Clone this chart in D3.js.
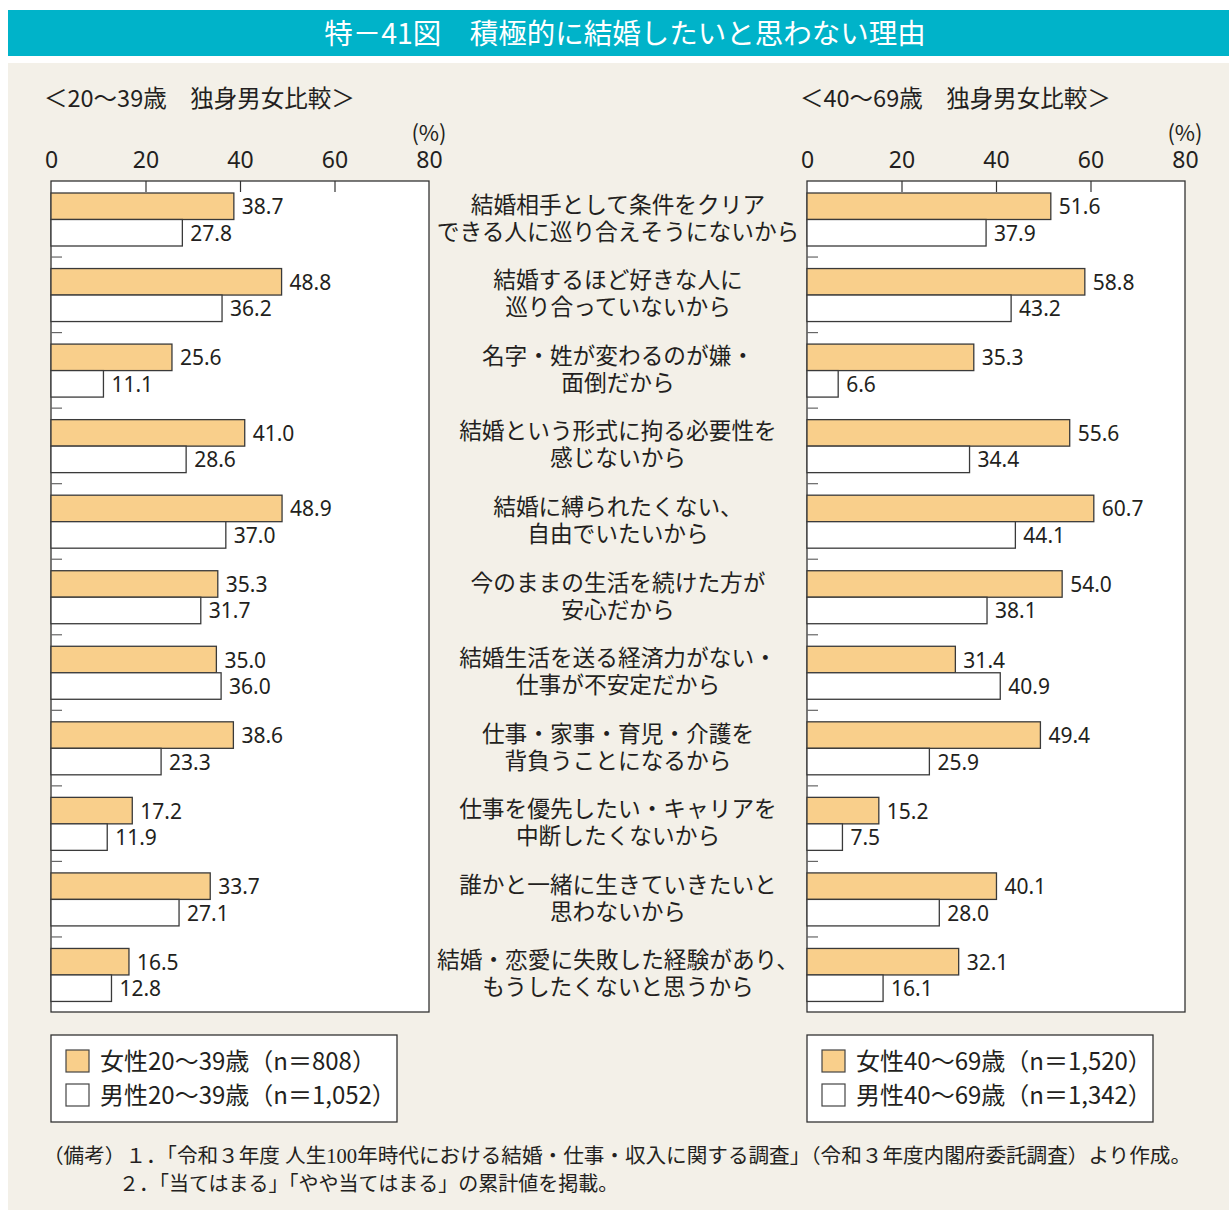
<!DOCTYPE html>
<html lang="ja">
<head>
<meta charset="utf-8">
<script src="https://cdn.jsdelivr.net/npm/d3@7"></script>
<style>
  html, body { margin: 0; padding: 0; background: #ffffff; }
  svg { display: block; }
  text { font-family: "Noto Sans CJK JP", "Noto Sans", sans-serif; fill: #231f20; }
  .serif { font-family: "Liberation Serif", "DejaVu Serif", "Noto Sans CJK JP", serif; }
</style>
</head>
<body>
<svg id="chart" width="1229" height="1210"></svg>
<script>
// Reasons for not actively wanting to marry (two display lines each)
const reasons = [
  ["結婚相手として条件をクリア", "できる人に巡り合えそうにないから"],
  ["結婚するほど好きな人に", "巡り合っていないから"],
  ["名字・姓が変わるのが嫌・", "面倒だから"],
  ["結婚という形式に拘る必要性を", "感じないから"],
  ["結婚に縛られたくない、", "自由でいたいから"],
  ["今のままの生活を続けた方が", "安心だから"],
  ["結婚生活を送る経済力がない・", "仕事が不安定だから"],
  ["仕事・家事・育児・介護を", "背負うことになるから"],
  ["仕事を優先したい・キャリアを", "中断したくないから"],
  ["誰かと一緒に生きていきたいと", "思わないから"],
  ["結婚・恋愛に失敗した経験があり、", "もうしたくないと思うから"]
];

// Percentages, age 20-39
const female2039 = [38.7, 48.8, 25.6, 41.0, 48.9, 35.3, 35.0, 38.6, 17.2, 33.7, 16.5];
const male2039   = [27.8, 36.2, 11.1, 28.6, 37.0, 31.7, 36.0, 23.3, 11.9, 27.1, 12.8];

// Percentages, age 40-69
const female4069 = [51.6, 58.8, 35.3, 55.6, 60.7, 54.0, 31.4, 49.4, 15.2, 40.1, 32.1];
const male4069   = [37.9, 43.2, 6.6, 34.4, 44.1, 38.1, 40.9, 25.9, 7.5, 28.0, 16.1];

const axisTicks = [0, 20, 40, 60, 80];

const titleText = "特－41図　積極的に結婚したいと思わない理由";
const panelTitles = ["＜20〜39歳　独身男女比較＞", "＜40〜69歳　独身男女比較＞"];
const legendLabels = [
  ["女性20〜39歳（n＝808）", "男性20〜39歳（n＝1,052）"],
  ["女性40〜69歳（n＝1,520）", "男性40〜69歳（n＝1,342）"]
];
const notes = [
  "（備考）１．「令和３年度 人生100年時代における結婚・仕事・収入に関する調査」（令和３年度内閣府委託調査）より作成。",
  "２．「当てはまる」「やや当てはまる」の累計値を掲載。"
];

const FEMALE_FILL = "#f9cf8b";
const MALE_FILL = "#ffffff";
const BAR_STROKE = "#3a3a3a";

const svg = d3.select("#chart");

// Header bar and background panel
svg.append("rect").attr("x", 8).attr("y", 10).attr("width", 1221).attr("height", 46).attr("fill", "#00b3c9");
svg.append("text").attr("x", 625).attr("y", 44).attr("text-anchor", "middle")
  .attr("font-size", 28.5).style("fill", "#ffffff").text(titleText);
svg.append("rect").attr("x", 8).attr("y", 63).attr("width", 1221).attr("height", 1147).attr("fill", "#f3f0e8");

// Shared vertical band scale for reason groups
const plotTop = 181, plotBottom = 1012;
const y = d3.scaleBand().domain(d3.range(reasons.length)).range([plotTop, plotBottom]).paddingInner(0).paddingOuter(0);
const ySub = d3.scaleBand().domain(["f", "m"]).range([12, 65]).paddingInner(0);

function drawPanel(x0, female, male, subtitle, legend) {
  const width = 378;
  const x = d3.scaleLinear().domain([0, 80]).range([x0, x0 + width]);
  const g = svg.append("g");

  g.append("text").attr("x", x0 - 7).attr("y", 107).attr("font-size", 23.5).text(subtitle);

  // Plot frame
  g.append("rect").attr("x", x0).attr("y", plotTop).attr("width", width).attr("height", plotBottom - plotTop)
    .attr("fill", "#ffffff").attr("stroke", "#333").attr("stroke-width", 1.3);

  // Tick labels above the frame
  const axTop = d3.axisTop(x).tickValues(axisTicks).tickSize(0).tickPadding(0).tickFormat(d3.format("d"));
  const axG = g.append("g").attr("transform", `translate(0,${plotTop - 13})`).call(axTop);
  axG.select(".domain").remove();
  axG.selectAll("text").attr("font-size", 23).style("fill", "#231f20")
    .style("font-family", "'Noto Sans', 'Noto Sans CJK JP', sans-serif");
  g.append("text").attr("x", x(80)).attr("y", 141).attr("text-anchor", "middle")
    .attr("font-size", 22).text("(%)");

  // Short inner ticks along the top edge
  const axIn = d3.axisBottom(x).tickValues([20, 40, 60]).tickSize(11).tickFormat("");
  const inG = g.append("g").attr("transform", `translate(0,${plotTop})`).call(axIn);
  inG.select(".domain").remove();
  inG.selectAll("line").attr("stroke", "#333").attr("stroke-width", 1.2);

  // Group separators on the left axis
  const axLeft = d3.axisRight(d3.scaleLinear().domain([0, reasons.length]).range([plotTop, plotBottom]))
    .tickValues(d3.range(1, reasons.length)).tickSize(11).tickFormat("");
  const lG = g.append("g").attr("transform", `translate(${x0},0)`).call(axLeft);
  lG.select(".domain").remove();
  lG.selectAll("line").attr("stroke", "#666").attr("stroke-width", 1.2);

  const rows = reasons.map((r, i) => ({ i, f: female[i], m: male[i] }));
  const series = [
    { key: "f", fill: FEMALE_FILL, get: d => d.f },
    { key: "m", fill: MALE_FILL, get: d => d.m }
  ];
  series.forEach(s => {
    g.selectAll(null).data(rows).enter().append("rect")
      .attr("x", x(0))
      .attr("y", d => y(d.i) + ySub(s.key))
      .attr("width", d => x(s.get(d)) - x(0))
      .attr("height", ySub.bandwidth())
      .attr("fill", s.fill).attr("stroke", BAR_STROKE).attr("stroke-width", 1.3);
    g.selectAll(null).data(rows).enter().append("text")
      .attr("x", d => x(s.get(d)) + 8)
      .attr("y", d => y(d.i) + ySub(s.key) + ySub.bandwidth() / 2 + 8)
      .attr("font-size", 21)
      .style("font-family", "'Noto Sans', 'Noto Sans CJK JP', sans-serif")
      .text(d => s.get(d).toFixed(1));
  });

  // Legend box
  const lg = g.append("g");
  lg.append("rect").attr("x", x0).attr("y", 1035).attr("width", 346).attr("height", 87)
    .attr("fill", "#ffffff").attr("stroke", "#333").attr("stroke-width", 1.3);
  [FEMALE_FILL, MALE_FILL].forEach((c, k) => {
    lg.append("rect").attr("x", x0 + 15).attr("y", 1050 + k * 34).attr("width", 23).attr("height", 22)
      .attr("fill", c).attr("stroke", "#444").attr("stroke-width", 1.2);
    lg.append("text").attr("x", x0 + 49).attr("y", 1070 + k * 34).attr("font-size", 24).text(legend[k]);
  });
}

drawPanel(51, female2039, male2039, panelTitles[0], legendLabels[0]);
drawPanel(807, female4069, male4069, panelTitles[1], legendLabels[1]);

// Reason labels in the center column, two lines per label
const labels = svg.append("g");
reasons.forEach((lines, i) => {
  const cy = y(i) + y.bandwidth() / 2;
  const t = labels.append("text").attr("text-anchor", "middle").attr("font-size", 22.7);
  lines.forEach((s, k) => {
    t.append("tspan").attr("x", 618).attr("y", cy - 6 + k * 27).text(s);
  });
});

// Notes
svg.append("text").attr("class", "serif").attr("x", 43).attr("y", 1163).attr("font-size", 20)
  .attr("textLength", 1148).attr("lengthAdjust", "spacingAndGlyphs").text(notes[0]);
svg.append("text").attr("class", "serif").attr("x", 119).attr("y", 1191).attr("font-size", 20).text(notes[1]);
</script>
</body>
</html>
